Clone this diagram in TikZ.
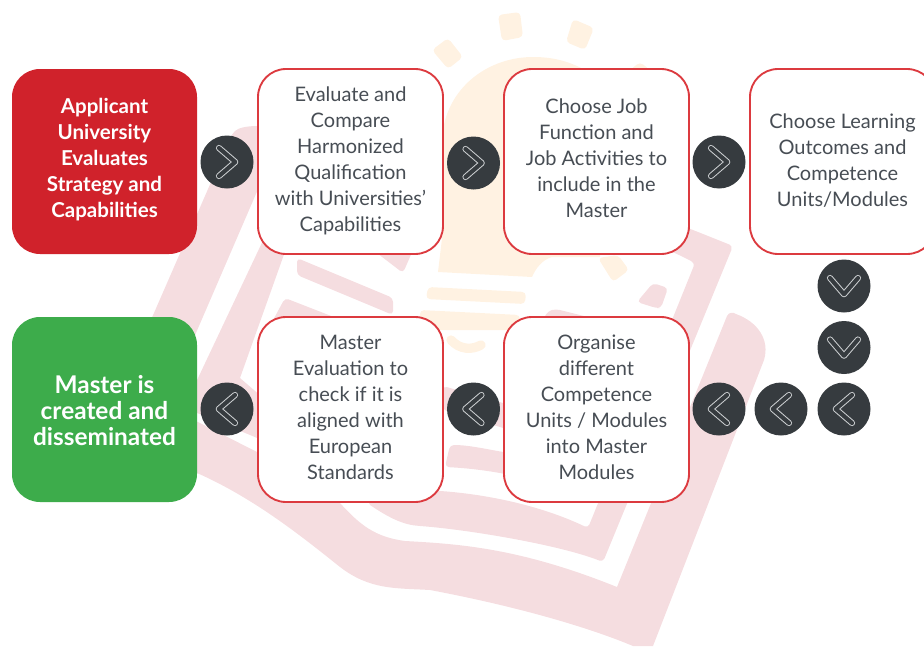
\documentclass[tikz,border=0pt]{standalone}
\usepackage{fontspec}
\setmainfont{Lato}
\definecolor{bookpink}{HTML}{F5DDE0}
\definecolor{bulbcream}{HTML}{FFF2E2}
\definecolor{redbox}{HTML}{D0222B}
\definecolor{greenbox}{HTML}{3DAC4B}
\definecolor{edgered}{HTML}{DC3A3F}
\definecolor{inktext}{HTML}{474D54}
\definecolor{circdark}{HTML}{363B3F}
\definecolor{chevgrey}{HTML}{CDD0D2}
\tikzset{
  x=0.75pt,y=-0.75pt,
  boxbase/.style={rounded corners=21pt,minimum width=138.75pt,minimum height=138.75pt,inner sep=0pt,align=center,font=\fontsize{15}{19.5}\selectfont},
  whitebox/.style={boxbase,draw=edgered,line width=1.4pt,fill=white,text=inktext},
  filledbox/.style={boxbase,text=white,font=\fontsize{15.4}{19.5}\selectfont\bfseries},
  circ/.style={circle,fill=circdark,minimum size=39.75pt,inner sep=0pt},
  chevouter/.style={draw=chevgrey,line width=4.6pt,line cap=round,line join=round},
  chevinner/.style={draw=circdark,line width=3.1pt,line cap=round,line join=round},
  pinkshape/.style={fill=bookpink,rounded corners=3pt},
  creamshape/.style={fill=bulbcream,rounded corners=3pt}
}
\newcommand{\chevin}[2]{%
  \draw[chevouter,shift={(#1)},rotate=#2] (-6pt,10.5pt) -- (6.2pt,0pt) -- (-6pt,-10.5pt);
  \draw[chevinner,shift={(#1)},rotate=#2] (-6pt,10.5pt) -- (6.2pt,0pt) -- (-6pt,-10.5pt);}
\newcommand{\lines}[2]{\raisebox{\dimexpr#1-3.6pt\relax}[0pt][0pt]{\begin{tabular}{@{}c@{}}#2\end{tabular}}}
\begin{document}
\begin{tikzpicture}
\useasboundingbox (0,0) rectangle (924,646);
% --- light bulb
\fill[bulbcream] (438,272) -- (443,230) -- (443,130) .. controls (450,85) and (490,57) .. (533,57) .. controls (555,57) and (570,62) .. (585,70) -- (600,200) -- (600,257) -- (552,257) .. controls (542,260) and (536,268) .. (532,277) -- cycle;
\fill[creamshape] (630,70) -- (640,62) -- (650,70) -- cycle;
\fill[creamshape] (432,50) -- (448,38) -- (463,57) -- (448,69) -- cycle;
\fill[creamshape] (498,15) -- (520,12) -- (523,37) -- (502,41) -- cycle;
\fill[creamshape] (573,19) -- (594,28) -- (585,50) -- (566,42) -- cycle;
\fill[creamshape] (598,258) -- (618,255) -- (629,270) -- (613,282) -- cycle;
\fill[creamshape] (428,287) -- (526,292) -- (525,304) -- (426,299) -- cycle;
\fill[creamshape] (420,310) -- (520,315) -- (520,330) -- (420,330) -- cycle;
\draw[bulbcream,line width=7pt,line cap=round] (451,340) .. controls (460,350) and (472,350) .. (481,345);
% --- open book
\fill[pinkshape] (130,368) -- (232,134) .. controls (238,128) and (246,126) .. (262,126) -- (262,180) -- (180,370) -- cycle;
\fill[bookpink] (267,232) -- (292,232) -- (240,378) -- (262,397) -- (262,440) -- (190,410) -- (190,395) -- cycle;
\fill[pinkshape] (297,258) -- (393,298) -- (393,315) -- (297,275) -- cycle;
\fill[pinkshape] (373,250) -- (413,250) -- (403,273) -- cycle;
\fill[pinkshape] (285,298) -- (380,335) -- (265,335) -- cycle;
\fill[pinkshape] (548,311) -- (556,309) -- (600,320) -- (540,325) -- cycle;
\fill[pinkshape] (637,302) -- (653,283) -- (668,288) -- (661,308) -- (656,308) -- cycle;
\fill[pinkshape] (443,386) -- (510,405) -- (510,430) -- (443,410) -- cycle;
\fill[pinkshape] (450,445) .. controls (470,445) and (490,450) .. (510,453) -- (510,475) .. controls (485,470) and (465,468) .. (445,467) -- cycle;
% inner page frame
\fill[pinkshape] (640,210) -- (693,230) -- (733,246) -- (603,562) .. controls (560,545) and (470,530) .. (420,526) .. controls (400,524) and (385,515) .. (367,503) -- (420,490) .. controls (480,492) and (540,505) .. (588,528) -- (695,263) -- (675,253) -- (640,240) -- cycle;
% outer page band
\fill[bookpink] (190,418) -- (257,452) -- (340,503) .. controls (360,525) and (375,537) .. (405,541) .. controls (460,544) and (520,548) .. (617,587) -- (727,316) .. controls (729,312) and (733,312) .. (736,314) .. controls (758,322) and (770,340) .. (764,360) -- (653,646) -- (633,646) .. controls (590,628) and (520,607) .. (430,590) .. controls (395,588) and (370,590) .. (340,567) .. controls (300,535) and (250,495) .. (190,470) -- cycle;
% --- process boxes
\node[filledbox,fill=redbox] (b1) at (104.5,161.5) {\lines{1.15pt}{Applicant\\University\\Evaluates\\Strategy and\\Capabilities}};
\node[whitebox] (b2) at (350.5,161.5) {\lines{0pt}{Evaluate and\\Compare\\Harmonized\\Qualification\\with Universities'\\Capabilities}};
\node[whitebox] (b3) at (596.5,161.5) {\lines{1.1pt}{Choose Job\\Function and\\Job Activities to\\include in the\\Master}};
\node[whitebox] (b4) at (842.5,161.5) {\lines{-0.4pt}{Choose Learning\\Outcomes and\\Competence\\Units/Modules}};
\node[whitebox] (b5) at (596.5,409.5) {\lines{0pt}{Organise\\different\\Competence\\Units / Modules\\into Master\\Modules}};
\node[whitebox] (b6) at (350.5,409.5) {\lines{0pt}{Master\\Evaluation to\\check if it is\\aligned with\\European\\Standards}};
\node[filledbox,fill=greenbox,font=\fontsize{18.3}{19.5}\selectfont\bfseries] (b7) at (104.5,409.5) {\lines{-4.2pt}{Master is\\created and\\disseminated}};
% --- chevron circles
\node[circ] (c1) at (227,162) {};
\node[circ] (c2) at (473.5,163) {};
\node[circ] (c3) at (719,162) {};
\node[circ] (c4) at (844,286) {};
\node[circ] (c5) at (844,347.5) {};
\node[circ] (c6) at (844,409) {};
\node[circ] (c7) at (781,409) {};
\node[circ] (c8) at (719,409) {};
\node[circ] (c9) at (473.5,409) {};
\node[circ] (c10) at (227,409) {};
\chevin{c1}{0}\chevin{c2}{0}\chevin{c3}{0}
\chevin{c4}{-90}\chevin{c5}{-90}
\chevin{c6}{180}\chevin{c7}{180}\chevin{c8}{180}\chevin{c9}{180}\chevin{c10}{180}
\end{tikzpicture}
\end{document}
